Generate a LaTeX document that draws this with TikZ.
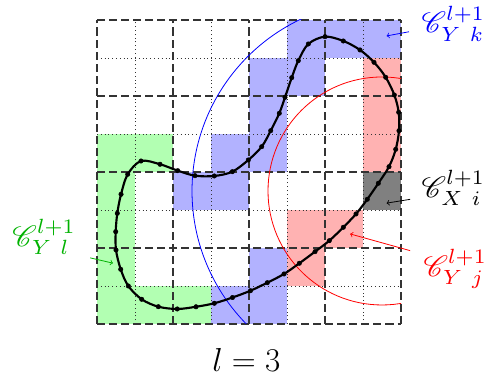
\documentclass[tikz,border=0pt]{standalone}
\usepackage{mathrsfs}
\begin{document}
\begin{tikzpicture}[
  coarse/.style={black!80, line width=0.8pt, dash pattern=on 6pt off 3pt},
  fine/.style={black!80, line width=0.65pt, dash pattern=on 0.65pt off 2.2pt},
  curve/.style={black, line width=1.6pt},
  arc/.style={line width=0.6pt},
  lbl/.style={inner sep=0pt, font=\normalsize, scale=2.2, transform shape, anchor=base west},
  pointer/.style={->, line width=0.6pt}
]
\useasboundingbox (-2.553,-1.553) rectangle (10.184,8.526);
% cells
\foreach \c/\r in {0/0,0/1,0/2,0/3,0/4,1/4,1/0,2/0}
  \fill[green!30] (\c,\r) rectangle ++(1,1);
\foreach \c/\r in {5/7,6/7,7/7,4/6,5/6,4/5,3/4,4/4,2/3,3/3,4/1,3/0,4/0}
  \fill[blue!30] (\c,\r) rectangle ++(1,1);
\foreach \c/\r in {7/4,7/5,7/6,5/2,6/2,5/1}
  \fill[red!30] (\c,\r) rectangle ++(1,1);
\fill[black!50] (7,3) rectangle ++(1,1);
% grid
\foreach \i in {1,3,5,7} {
  \draw[fine] (\i,0) -- (\i,8);
  \draw[fine] (0,\i) -- (8,\i);
}
\foreach \i in {0,2,4,6,8} {
  \draw[coarse] (\i,0) -- (\i,8);
  \draw[coarse] (0,\i) -- (8,\i);
}
% circles
\begin{scope}
  \clip (0,0) rectangle (8,8);
  \draw[arc, blue] (7.5,3.5) circle (5);
  \draw[arc, red] (7.5,3.5) circle (3);
\end{scope}
% curve
\draw[curve] plot[smooth cycle, tension=0.55, mark=*, mark size=1.7pt, mark options={solid, fill=black, line width=0.3pt}] coordinates {
(1.158,4.289) (1.658,4.203) (2.124,4.034) (2.579,3.903) (3.087,3.895) (3.561,4.008)
(3.982,4.316) (4.334,4.666) (4.571,5.087) (4.797,5.545) (4.947,5.966) (5.124,6.482)
(5.297,6.929) (5.561,7.368) (6.0,7.561) (6.482,7.447) (6.921,7.211) (7.289,6.887)
(7.597,6.492) (7.824,6.026) (7.939,5.571) (7.947,5.087) (7.861,4.597) (7.684,4.139)
(7.403,3.703) (7.113,3.282) (6.816,2.895) (6.482,2.545) (6.113,2.192) (5.737,1.903)
(5.324,1.597) (4.921,1.316) (4.482,1.087) (4.039,0.876) (3.566,0.697) (3.087,0.545)
(2.605,0.453) (2.113,0.395) (1.613,0.455) (1.176,0.650) (0.824,1.0) (0.624,1.439)
(0.5,1.947) (0.492,2.429) (0.534,2.913) (0.632,3.413) (0.808,3.939)};
% labels
\node[lbl, text=blue] (lblk) at (8.53,7.66) {$\mathscr{C}^{l+1}_{Y\ k}$};
\node[lbl, text=black] (lbli) at (8.53,3.34) {$\mathscr{C}^{l+1}_{X\ i}$};
\node[lbl, text=red] (lblj) at (8.58,1.26) {$\mathscr{C}^{l+1}_{Y\ j}$};
\node[lbl, text=green!70!black] (lbll) at (-2.24,2.05) {$\mathscr{C}^{l+1}_{Y\ l}$};
\node[inner sep=0pt, font=\Huge, anchor=base] (cap) at (3.93,-1.26) {$l=3$};
% pointer heads
\coordinate (hk) at (7.62,7.58);
\coordinate (hi) at (7.62,3.18);
\coordinate (hj) at (6.66,2.37);
\coordinate (hl) at (0.42,1.60);
\draw[pointer, blue] ([shift={(-0.32,0.03)}]lblk.base west) -- (hk);
\draw[pointer, black] ([shift={(-0.29,-0.06)}]lbli.base west) -- (hi);
\draw[pointer, red] ([shift={(-0.34,0.67)}]lblj.base west) -- (hj);
\draw[pointer, green!70!black] ([shift={(2.06,-0.31)}]lbll.base west) -- (hl);
\end{tikzpicture}
\end{document}
